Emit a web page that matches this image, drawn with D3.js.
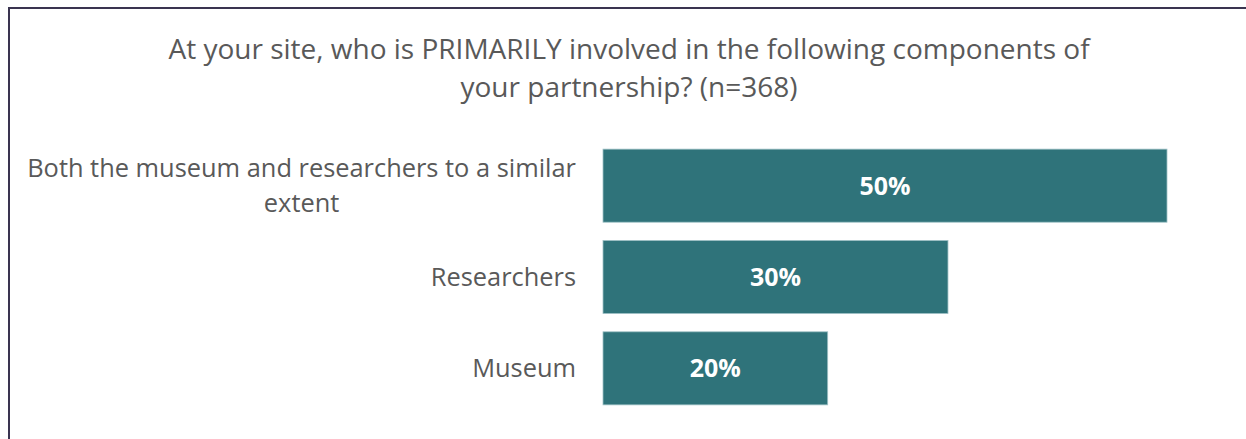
<!DOCTYPE html>
<html>
<head>
<meta charset="utf-8">
<script src="https://cdn.jsdelivr.net/npm/d3@7"></script>
<style>
  html, body { margin: 0; padding: 0; background: #fff; }
  svg { display: block; }
  text { font-family: "Open Sans", "Lato", sans-serif; }
</style>
</head>
<body>
<svg id="chart" width="1246" height="439"></svg>
<script>
const titleLines = ["At your site, who is PRIMARILY involved in the following components of", "your partnership? (n=368)"];
const categories = ["Both the museum and researchers to a similar extent", "Researchers", "Museum"];
const values = [49.7, 30.4, 19.8];

const W = 1246, H = 439;
const svg = d3.select("#chart");

// frame
svg.append("line").attr("x1", 9).attr("x2", 9).attr("y1", 8).attr("y2", H)
  .attr("stroke", "#3a3450").attr("stroke-width", 2);
svg.append("line").attr("x1", 8).attr("x2", W).attr("y1", 8).attr("y2", 8)
  .attr("stroke", "#3a3450").attr("stroke-width", 2);

// title
const title = svg.append("text").attr("text-anchor", "middle").attr("fill", "#595959")
  .style("font-size", "28px");
titleLines.forEach((t, i) => {
  title.append("tspan").attr("x", 629).attr("y", 59 + i * 38).text(t);
});

const x = d3.scaleLinear().domain([0, 49.7]).range([603, 1167]);
const y = d3.scaleBand().domain(categories).range([140, 414]).paddingInner(0.2).paddingOuter(0.1);

svg.selectAll("rect.bar").data(values).join("rect")
  .attr("class", "bar")
  .attr("x", x(0))
  .attr("y", (d, i) => y(categories[i]))
  .attr("width", d => x(d) - x(0))
  .attr("height", y.bandwidth())
  .attr("fill", "#2f737a")
  .attr("stroke", "#9fc1c6").attr("stroke-width", 0.8);

svg.selectAll("text.val").data(values).join("text")
  .attr("class", "val")
  .attr("x", d => (x(0) + x(d)) / 2)
  .attr("y", (d, i) => y(categories[i]) + y.bandwidth() / 2)
  .attr("dy", "0.36em")
  .attr("text-anchor", "middle")
  .attr("fill", "#ffffff")
  .style("font-size", "25px").style("font-weight", "bold")
  .text(d => d3.format(".0f")(d) + "%");

// category labels with wrapping (centered lines, block right-aligned)
const maxW = 565;
const labelRight = 576;
const labelSize = "25.4px";
categories.forEach((c, i) => {
  const g = svg.append("g");
  const t = g.append("text").attr("fill", "#595959").style("font-size", labelSize).attr("text-anchor", "middle");
  const words = c.split(" ");
  let lines = [], cur = [];
  const probe = g.append("text").style("font-size", labelSize);
  words.forEach(w => {
    const test = cur.concat([w]).join(" ");
    probe.text(test);
    if (probe.node().getComputedTextLength() > maxW && cur.length) {
      lines.push(cur.join(" "));
      cur = [w];
    } else cur.push(w);
  });
  lines.push(cur.join(" "));
  let widest = 0;
  lines.forEach(l => { probe.text(l); widest = Math.max(widest, probe.node().getComputedTextLength()); });
  probe.remove();
  const cx = labelRight - widest / 2;
  const lh = 35;
  const cy = y(c) + y.bandwidth() / 2;
  lines.forEach((l, k) => {
    t.append("tspan").attr("x", cx)
      .attr("y", cy + (k - (lines.length - 1) / 2) * lh)
      .attr("dy", "0.35em").text(l);
  });
});
</script>
</body>
</html>
